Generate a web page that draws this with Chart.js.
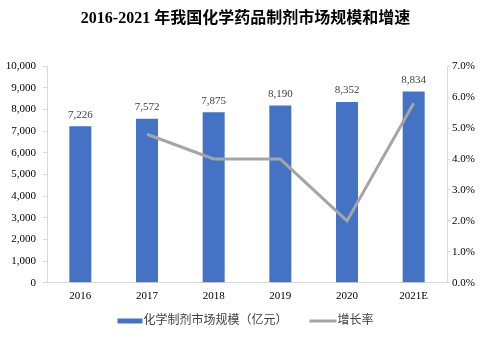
<!DOCTYPE html>
<html>
<head>
<meta charset="utf-8">
<script src="https://cdn.jsdelivr.net/npm/chart.js@4"></script>
<style>
  body { margin: 0; background: #fff; }
  #wrap { width: 491px; height: 340px; }
</style>
</head>
<body>
<div id="wrap"><canvas id="marketChart"></canvas></div>
<script>
// 数据
const years = ['2016', '2017', '2018', '2019', '2020', '2021E'];
const marketSize = [7226, 7572, 7875, 8190, 8352, 8834];   // 亿元
const growthRate = [null, 4.8, 4.0, 4.0, 2.0, 5.8];        // %
const leftTicks = [0, 1000, 2000, 3000, 4000, 5000, 6000, 7000, 8000, 9000, 10000];
const rightTicks = [0, 1, 2, 3, 4, 5, 6, 7];

const serif = '"Liberation Serif", "Times New Roman", "Noto Sans CJK SC", serif';
const axisColor = '#d9d9d9';
const textColor = '#404040';

// 柱顶数值标签
const barLabels = {
  id: 'barLabels',
  afterDatasetsDraw(chart) {
    const c = chart.ctx;
    const meta = chart.getDatasetMeta(0);
    c.save();
    c.font = '11px ' + serif;
    c.fillStyle = textColor;
    c.textAlign = 'center';
    c.textBaseline = 'bottom';
    meta.data.forEach((bar, i) => {
      c.fillText(marketSize[i].toLocaleString('en-US'), bar.x, bar.y - 6);
    });
    c.restore();
  }
};

// 底部图例：柱用色块，折线用线段
const bottomLegend = {
  id: 'bottomLegend',
  afterDraw(chart) {
    const c = chart.ctx;
    const ds = chart.data.datasets;
    const y = chart.height - 19;
    const gap = 22;
    c.save();
    c.font = '12px ' + serif;
    c.textBaseline = 'middle';
    const items = ds.map(d => ({
      d,
      sw: d.type === 'line' ? 27 : 25,
      tw: c.measureText(d.label).width
    }));
    const total = items.reduce((s, it) => s + it.sw + 1 + it.tw, 0) + gap * (items.length - 1);
    let x = (chart.width - total) / 2;
    items.forEach(it => {
      if (it.d.type === 'line') {
        c.strokeStyle = it.d.borderColor;
        c.lineWidth = 3;
        c.beginPath();
        c.moveTo(x, y);
        c.lineTo(x + it.sw, y);
        c.stroke();
      } else {
        c.fillStyle = it.d.backgroundColor;
        c.fillRect(x, y - 2.5, it.sw, 5);
      }
      x += it.sw + 1;
      c.fillStyle = textColor;
      c.fillText(it.d.label, x, y);
      x += it.tw + gap;
    });
    c.restore();
  }
};

new Chart(document.getElementById('marketChart'), {
  data: {
    labels: years,
    datasets: [
      {
        type: 'bar',
        label: '化学制剂市场规模（亿元）',
        data: marketSize,
        backgroundColor: '#4472c4',
        borderWidth: 0,
        categoryPercentage: 1,
        barPercentage: 0.33,
        yAxisID: 'y',
        order: 2
      },
      {
        type: 'line',
        label: '增长率',
        data: growthRate,
        borderColor: '#a5a5a5',
        backgroundColor: '#a5a5a5',
        borderWidth: 3,
        pointRadius: 0,
        tension: 0,
        yAxisID: 'y1',
        order: 1
      }
    ]
  },
  options: {
    responsive: true,
    maintainAspectRatio: false,
    animation: false,
    layout: { padding: { top: 7, bottom: 30, left: 0, right: 0 } },
    plugins: {
      title: {
        display: true,
        text: '2016-2021 年我国化学药品制剂市场规模和增速',
        color: '#000',
        font: { family: serif, size: 16, weight: 'bold' },
        padding: { top: 2, bottom: 38 }
      },
      legend: { display: false },
      tooltip: { enabled: false }
    },
    scales: {
      x: {
        grid: { display: false, drawTicks: false },
        border: { color: axisColor },
        ticks: { color: '#000', font: { family: serif, size: 11 }, padding: 7 }
      },
      y: {
        position: 'left',
        min: 0,
        max: 10000,
        afterFit(scale) { scale.width = 47; },
        afterBuildTicks(scale) { scale.ticks = leftTicks.map(v => ({ value: v })); },
        grid: { drawOnChartArea: false, color: axisColor, tickLength: 4 },
        border: { color: axisColor },
        ticks: {
          color: '#000',
          font: { family: serif, size: 11 },
          padding: 7,
          callback: v => v.toLocaleString('en-US')
        }
      },
      y1: {
        position: 'right',
        min: 0,
        max: 7,
        afterFit(scale) { scale.width = 44; },
        afterBuildTicks(scale) { scale.ticks = rightTicks.map(v => ({ value: v })); },
        grid: { drawOnChartArea: false, color: axisColor, tickLength: 3 },
        border: { color: axisColor },
        ticks: {
          color: '#000',
          font: { family: serif, size: 11 },
          padding: 2,
          callback: v => v.toFixed(1) + '%'
        }
      }
    }
  },
  plugins: [barLabels, bottomLegend]
});
</script>
</body>
</html>
